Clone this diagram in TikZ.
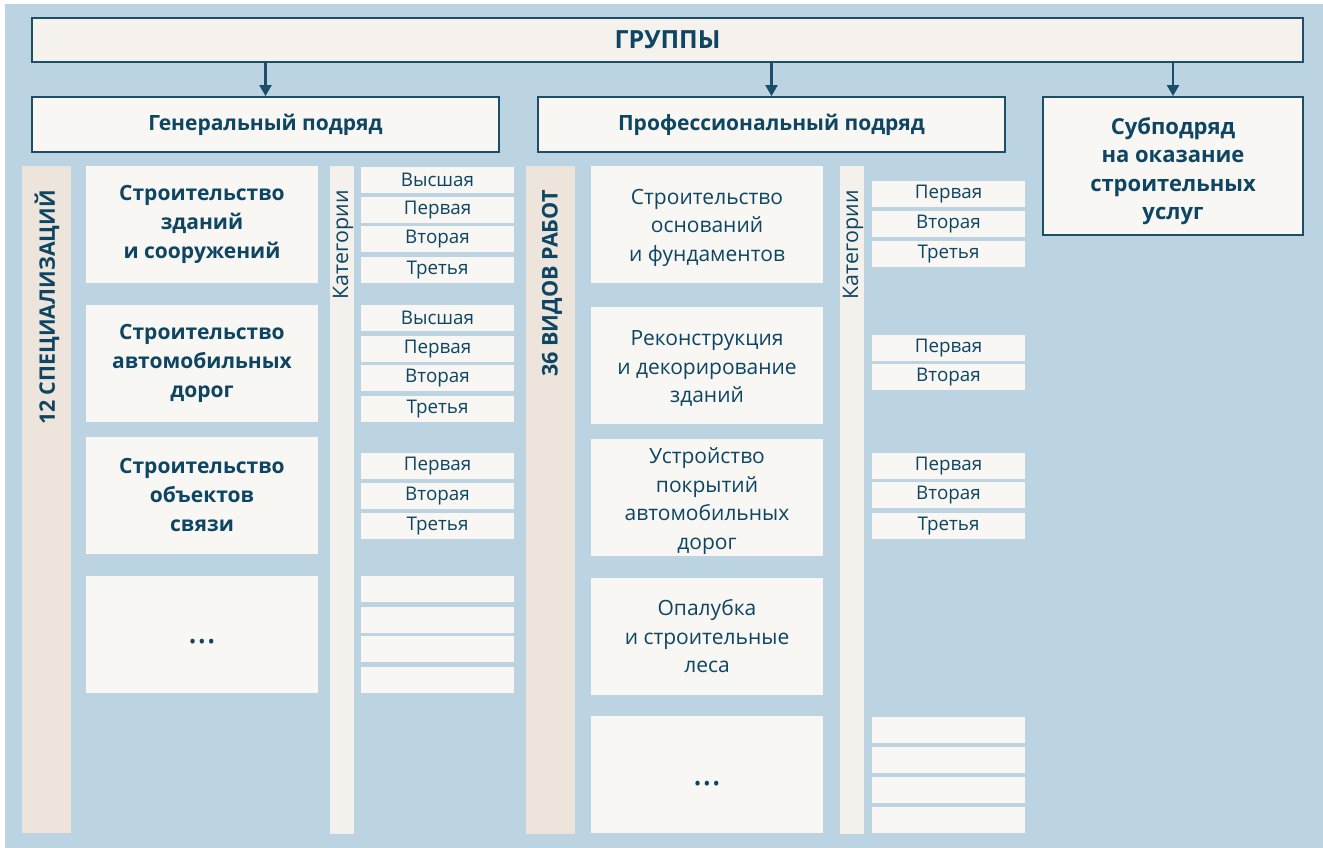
\documentclass[tikz,border=0pt]{standalone}
\usepackage{fontspec}
\setmainfont{Open Sans}
\definecolor{bgblue}{HTML}{BCD4E1}
\definecolor{boxc}{HTML}{F8F7F4}
\definecolor{grpc}{HTML}{F5F2EE}
\definecolor{beige}{HTML}{EDE5DB}
\definecolor{catc}{HTML}{F4F1EC}
\definecolor{txt}{HTML}{0D4562}
\definecolor{edge}{HTML}{1D4E68}
\usetikzlibrary{arrows.meta}
\begin{document}
\begin{tikzpicture}[x=1pt,y=-1pt,
  hdr/.style={draw=edge, line width=1.8pt, fill=boxc, inner sep=0, align=center, text=txt,
    font=\fontsize{21}{28}\selectfont\bfseries},
  bigbox/.style={fill=boxc, inner sep=0, align=center, text=txt, minimum width=232pt, minimum height=117pt},
  boldtxt/.style={font=\fontsize{21}{29}\selectfont\bfseries},
  regtxt/.style={font=\fontsize{21}{28.5}\selectfont},
  dotstxt/.style={font=\fontsize{36}{36}\selectfont},
  catbox/.style={fill=boxc, inner sep=0, text=txt, minimum width=153pt, minimum height=26pt,
    font=\fontsize{18.8}{20}\selectfont},
  beigestrip/.style={fill=beige, inner sep=0, minimum width=49pt, minimum height=667pt},
  catstrip/.style={fill=catc, inner sep=0, minimum width=24pt, minimum height=667pt},
  vtxt/.style={rotate=90, anchor=east, inner sep=0, text=txt},
  arr/.style={draw=edge, line width=2.2pt, -{Triangle[length=11pt,width=12pt]}}
]
\useasboundingbox (0,0) rectangle (1323,848);
\fill[bgblue] (5,4) rectangle (1323,848);

% header row
\node[hdr, fill=grpc, minimum width=1271pt, minimum height=44pt, font=\fontsize{25}{28}\selectfont\bfseries] (grp) at (667.5,40) {ГРУППЫ};
\node[hdr, minimum width=467pt, minimum height=55pt] (gen) at (265.5,124.5) {Генеральный подряд};
\node[hdr, minimum width=467pt, minimum height=55pt] (prof) at (771.5,124.5) {Профессиональный подряд};
\node[hdr, minimum width=260pt, minimum height=138pt] (sub) at (1173,166) {};
\node[text=txt, align=center, inner sep=0, font=\fontsize{22}{28.5}\selectfont\bfseries] (subtxt) at (1173,171) {Субподряд\\на оказание\\строительных\\услуг};
\draw[arr] (grp.south -| gen.north) -- (gen.north);
\draw[arr] (grp.south -| prof.north) -- (prof.north);
\draw[arr] (grp.south -| sub.north) -- (sub.north);

% left column
\node[beigestrip] (specstrip) at (46.5,499.5) {};
\node[vtxt, font=\fontsize{21.4}{24}\selectfont\bfseries] (spectxt) at (47,190) {12 СПЕЦИАЛИЗАЦИЙ};
\node[bigbox, boldtxt] (s1) at (202,224.5) {Строительство\\зданий\\и сооружений};
\node[bigbox, boldtxt] (s2) at (202,363) {Строительство\\автомобильных\\дорог};
\node[bigbox, boldtxt] (s3) at (202,495) {Строительство\\объектов\\связи};
\node[bigbox] (s4) at (202,634.5) {};
\node[text=txt, dotstxt, inner sep=0, anchor=base] (s4dots) at (202,643) {…};
\node[catstrip] (cat1) at (342,500) {};
\node[vtxt, font=\fontsize{21.4}{22}\selectfont] (cat1txt) at (343,190) {Категории};

\node[catbox] (a1) at (437.5,180) {Высшая};
\node[catbox] (a2) at (437.5,210) {Первая};
\node[catbox] (a3) at (437.5,239) {Вторая};
\node[catbox] (a4) at (437.5,270) {Третья};
\node[catbox] (b1) at (437.5,318) {Высшая};
\node[catbox] (b2) at (437.5,349) {Первая};
\node[catbox] (b3) at (437.5,378) {Вторая};
\node[catbox] (b4) at (437.5,409) {Третья};
\node[catbox] (c1) at (437.5,466) {Первая};
\node[catbox] (c2) at (437.5,496) {Вторая};
\node[catbox] (c3) at (437.5,526) {Третья};
\node[catbox] (d1) at (437.5,589) {};
\node[catbox] (d2) at (437.5,620) {};
\node[catbox] (d3) at (437.5,649) {};
\node[catbox] (d4) at (437.5,680) {};

% middle column
\node[beigestrip] (workstrip) at (550.5,500) {};
\node[vtxt, font=\fontsize{21.6}{24}\selectfont\bfseries] (worktxt) at (552,190) {36 ВИДОВ РАБОТ};
\node[bigbox] (w1) at (707,224.5) {};
\node[text=txt, align=center, inner sep=0, regtxt] (w1txt) at (707,227.5) {Строительство\\оснований\\и фундаментов};
\node[bigbox] (w2) at (707,365.5) {};
\node[text=txt, align=center, inner sep=0, regtxt] (w2txt) at (707,368.5) {Реконструкция\\и декорирование\\зданий};
\node[bigbox] (w3) at (707,497.5) {};
\node[text=txt, align=center, inner sep=0, regtxt] (w3txt) at (707,501) {Устройство\\покрытий\\автомобильных\\дорог};
\node[bigbox, regtxt] (w4) at (707,636.5) {Опалубка\\и строительные\\леса};
\node[bigbox] (w5) at (707,774.5) {};
\node[text=txt, dotstxt, inner sep=0, anchor=base] (w5dots) at (707,785) {…};
\node[catstrip] (cat2) at (852,500) {};
\node[vtxt, font=\fontsize{21.4}{22}\selectfont] (cat2txt) at (853,190) {Категории};

\node[catbox] (e1) at (948.5,194) {Первая};
\node[catbox] (e2) at (948.5,224) {Вторая};
\node[catbox] (e3) at (948.5,254) {Третья};
\node[catbox] (f1) at (948.5,348) {Первая};
\node[catbox] (f2) at (948.5,377) {Вторая};
\node[catbox] (g1) at (948.5,466) {Первая};
\node[catbox] (g2) at (948.5,495) {Вторая};
\node[catbox] (g3) at (948.5,526) {Третья};
\node[catbox] (h1) at (948.5,730) {};
\node[catbox] (h2) at (948.5,760) {};
\node[catbox] (h3) at (948.5,790) {};
\node[catbox] (h4) at (948.5,820) {};
\end{tikzpicture}
\end{document}
